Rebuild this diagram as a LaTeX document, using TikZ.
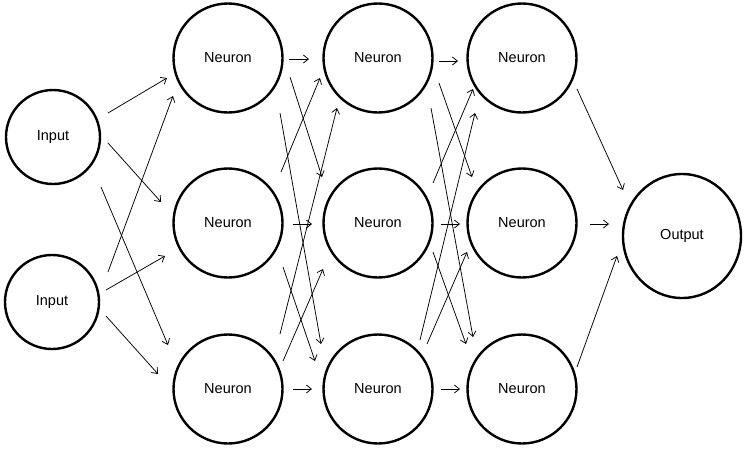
\documentclass[tikz,border=0pt]{standalone}
\usepackage{fontspec}
\setmainfont{Liberation Sans}
\usetikzlibrary{arrows.meta,calc,shapes.geometric}
\begin{document}
\begin{tikzpicture}[x=1pt,y=-1pt,
  unit/.style={draw=black,line width=2.4pt,circle,inner sep=0pt,font=\fontsize{14.5}{17}\selectfont},
  neuron/.style={unit,minimum size=109pt},
  inp/.style={unit,minimum size=94pt},
  outp/.style={unit,ellipse,minimum width=118pt,minimum height=124pt},
  arr/.style={line width=0.75pt,-{Straight Barb[length=5pt,width=8pt,line width=0.75pt]}}]
\useasboundingbox (0,0) rectangle (744,448);
\node[inp] (i1) at (53,137) {Input};
\node[inp] (i2) at (52,302) {Input};
\node[neuron] (n11) at (228,58) {Neuron};
\node[neuron] (n12) at (228,223) {Neuron};
\node[neuron] (n13) at (228,389) {Neuron};
\node[neuron] (n21) at (378,58) {Neuron};
\node[neuron] (n22) at (378,223) {Neuron};
\node[neuron] (n23) at (378,389) {Neuron};
\node[neuron] (n31) at (522,58) {Neuron};
\node[neuron] (n32) at (522,223) {Neuron};
\node[neuron] (n33) at (522,389) {Neuron};
\node[outp] (out) at (682,236) {Output};
% input -> layer 1
\draw[arr] ($(i1)+(55,-24)$) -- ($(n11)+(-61,20)$);
\draw[arr] ($(i1)+(55,6)$) -- ($(n12)+(-67,-21)$);
\draw[arr] ($(i1)+(48,50)$) -- ($(n13)+(-60,-44)$);
\draw[arr] ($(i2)+(56,-30)$) -- ($(n11)+(-55,38)$);
\draw[arr] ($(i2)+(54,-12)$) -- ($(n12)+(-63,33)$);
\draw[arr] ($(i2)+(54,14)$) -- ($(n13)+(-70,-15)$);
% layer 1 -> layer 2
\draw[arr] ($(n11)+(61,1)$) -- ($(n21)+(-69,1)$);
\draw[arr] ($(n11)+(62,19)$) -- ($(n22)+(-56,-46)$);
\draw[arr] ($(n11)+(52,55)$) -- ($(n23)+(-57,-45)$);
\draw[arr] ($(n12)+(53,-51)$) -- ($(n21)+(-58,20)$);
\draw[arr] ($(n12)+(65,1)$) -- ($(n22)+(-66,1)$);
\draw[arr] ($(n12)+(55,44)$) -- ($(n23)+(-63,-28)$);
\draw[arr] ($(n13)+(52,-55)$) -- ($(n21)+(-41,50)$);
\draw[arr] ($(n13)+(55,-28)$) -- ($(n22)+(-55,46)$);
\draw[arr] ($(n13)+(65,0)$) -- ($(n23)+(-66,0)$);
% layer 2 -> layer 3
\draw[arr] ($(n21)+(61,3)$) -- ($(n31)+(-64,3)$);
\draw[arr] ($(n21)+(61,25)$) -- ($(n32)+(-50,-46)$);
\draw[arr] ($(n21)+(53,50)$) -- ($(n33)+(-49,-52)$);
\draw[arr] ($(n22)+(55,-40)$) -- ($(n31)+(-49,31)$);
\draw[arr] ($(n22)+(63,1)$) -- ($(n32)+(-62,1)$);
\draw[arr] ($(n22)+(55,29)$) -- ($(n33)+(-56,-45)$);
\draw[arr] ($(n23)+(42,-49)$) -- ($(n31)+(-47,55)$);
\draw[arr] ($(n23)+(49,-45)$) -- ($(n32)+(-55,29)$);
\draw[arr] ($(n23)+(63,0)$) -- ($(n33)+(-62,0)$);
% layer 3 -> output
\draw[arr] ($(n31)+(55,31)$) -- ($(out)+(-59,-46)$);
\draw[arr] ($(n32)+(68,1)$) -- ($(out)+(-73,-12)$);
\draw[arr] ($(n33)+(55,-22)$) -- ($(out)+(-65,20)$);
\end{tikzpicture}
\end{document}
